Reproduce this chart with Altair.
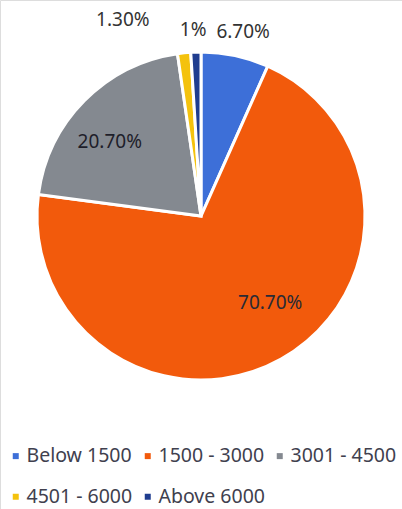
import altair as alt
import pandas as pd

categories = ["Below 1500", "1500 - 3000", "3001 - 4500", "4501 - 6000", "Above 6000"]
values = [6.7, 70.7, 20.7, 1.3, 1.0]
labels = ["6.70%", "70.70%", "20.70%", "1.30%", "1%"]
colors = ["#3d6fd8", "#f25a0c", "#848990", "#f4c20d", "#1f3d8f"]

df = pd.DataFrame({
    "cat": categories,
    "val": values,
    "lab": labels,
    "ord": list(range(len(categories))),
})

cx, cy, R = 201, 216, 164

color = alt.Color(
    "cat:N",
    scale=alt.Scale(domain=categories, range=colors),
    sort=categories,
    legend=alt.Legend(
        title=None, orient="none", legendX=6, legendY=446, columns=3,
        direction="horizontal", symbolType="square", symbolSize=36,
        labelFontSize=19.5, labelFont="Noto Sans", labelColor="#40404e",
        columnPadding=5, rowPadding=20, symbolOffset=0, labelOffset=1,
        symbolStrokeWidth=0,
    ),
)

base = alt.Chart(df).encode(
    theta=alt.Theta("val:Q", stack=True),
    order=alt.Order("ord:Q"),
)

arcs = base.mark_arc(outerRadius=R, stroke="white", strokeWidth=3).encode(
    color=color, x=alt.value(cx), y=alt.value(cy)
)


def label_layer(cat, radius, dx, dy, col="#333333"):
    return base.mark_text(
        radius=radius, fontSize=19, font="Noto Sans", color=col, dx=dx, dy=dy
    ).encode(
        text=alt.condition(alt.datum.cat == cat, "lab:N", alt.value("")),
        x=alt.value(cx), y=alt.value(cy),
    )


layers = [
    arcs,
    label_layer("Below 1500", 188, 3, 0),
    label_layer("Above 6000", 186, -2, 0),
    label_layer("4501 - 6000", 196, -58, -1),
    label_layer("1500 - 3000", 111, 15, -10, "#2a2a35"),
    label_layer("3001 - 4500", 117, -8, 8, "#1e1e2a"),
]

chart = alt.layer(*layers).properties(
    width=402, height=509, autosize=alt.AutoSizeParams(type="none"), padding=0
).configure_view(stroke=None).configure(background="white")

chart.save("out.html", embed_options={"renderer": "svg", "actions": False})
